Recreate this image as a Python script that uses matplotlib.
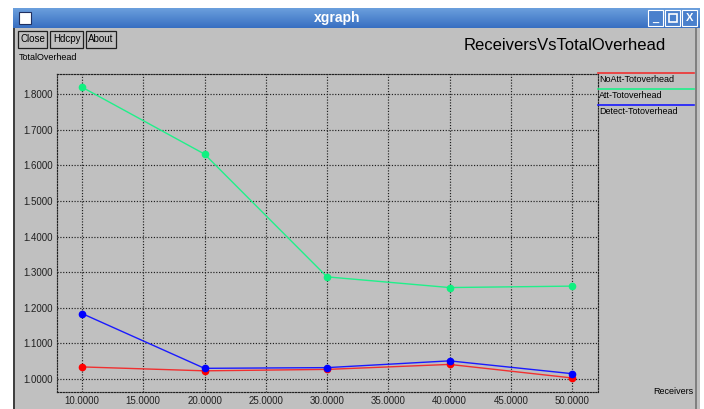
import matplotlib
matplotlib.use("Agg")
import matplotlib.pyplot as plt
from matplotlib.patches import Rectangle
import numpy as np

receivers = [10, 20, 30, 40, 50]
noatt = [1.034, 1.023, 1.027, 1.041, 1.003]
att = [1.820, 1.632, 1.287, 1.257, 1.261]
detect = [1.184, 1.030, 1.032, 1.051, 1.015]
series_names = ["NoAtt-Totoverhead", "Att-Totoverhead", "Detect-Totoverhead"]
series_colors = ["#f03030", "#20f08a", "#1a1aff"]
marker_colors = ["#ff0000", "#10f080", "#0000ff"]
xticks = [10, 15, 20, 25, 30, 35, 40, 45, 50]
yticks = [1.0, 1.1, 1.2, 1.3, 1.4, 1.5, 1.6, 1.7, 1.8]

W, H = 704, 409
FONT = "Liberation Sans"
fig = plt.figure(figsize=(W / 100, H / 100), dpi=100)
fig.patch.set_facecolor("white")

def px(x, y):
    return x / W, 1 - y / H

def rect(x0, y0, x1, y1, z=-5, **kw):
    fig.patches.append(Rectangle((x0 / W, 1 - y1 / H), (x1 - x0) / W, (y1 - y0) / H,
                                 transform=fig.transFigure, zorder=z, **kw))

# window body
rect(13, 27, 700, 409, facecolor="#c0c0c0", edgecolor="none", z=-10)
rect(13, 27, 15, 409, facecolor="#404040", edgecolor="none", z=-9)
rect(695, 27, 697, 409, facecolor="#808080", edgecolor="none", z=-9)
# title bar gradient
ncol = 20
for i in range(ncol):
    y0 = 8 + i * 20 / ncol
    c = np.array([0x6a, 0x9e, 0xdc]) * (1 - i / ncol) + np.array([0x35, 0x6c, 0xc0]) * (i / ncol)
    rect(13, y0, 700, y0 + 20 / ncol + 0.3, facecolor=c / 255, edgecolor="none", z=-9)
fig.text(*px(337, 18), "xgraph", ha="center", va="center", color="white",
         fontsize=10, fontweight="bold", family=FONT)
rect(19, 12, 31, 24, facecolor="white", edgecolor="#203060", linewidth=0.8)
for i, x0 in enumerate([648, 665, 682]):
    rect(x0, 10, x0 + 15, 26, facecolor="#4a80cc", edgecolor="white", linewidth=0.8)
fig.text(*px(655.5, 19), "_", ha="center", va="center", color="white", fontsize=8, fontweight="bold", family=FONT)
rect(669, 14, 677, 22, facecolor="none", edgecolor="white", linewidth=1.2, z=-4)
fig.text(*px(689.5, 18), "X", ha="center", va="center", color="white", fontsize=8, fontweight="bold", family=FONT)

# buttons
for label, x0, x1 in [("Close", 18, 47), ("Hdcpy", 50, 83), ("About", 86, 116)]:
    rect(x0, 31, x1, 48, facecolor="#c0c0c0", edgecolor="#202020", linewidth=0.9)
    fig.text(*px((x0 + x1) / 2, 39.5), label, ha="center", va="center", fontsize=7,
             family=FONT, color="black")

fig.text(*px(565, 46), "ReceiversVsTotalOverhead", ha="center", va="center",
         fontsize=12, family=FONT, color="black")
fig.text(*px(19, 57), "TotalOverhead", ha="left", va="center", fontsize=6.5,
         family=FONT, color="black")
fig.text(*px(693, 392), "Receivers", ha="right", va="center", fontsize=6.5,
         family=FONT, color="black")

# axes
ax = fig.add_axes([57 / W, 1 - 392 / H, (598 - 57) / W, (392 - 74) / H])
ax.set_facecolor("#c0c0c0")
for s in ax.spines.values():
    s.set_linestyle((0, (1, 1.4)))
    s.set_color("#202020")
    s.set_linewidth(0.85)
ax.set_xlim(7.96, 52.12)
ax.set_ylim(0.9635, 1.857)
ax.set_xticks(xticks)
ax.set_yticks(yticks)
ax.set_xticklabels([f"{v:.4f}" for v in xticks], fontsize=7, family=FONT)
ax.set_yticklabels([f"{v:.4f}" for v in yticks], fontsize=7, family=FONT)
ax.tick_params(length=0, pad=3, colors="#202020")
ax.grid(True, color="#202020", linestyle=(0, (1, 1.4)), linewidth=0.85)
ax.set_axisbelow(True)

for vals, c, mc in zip([noatt, att, detect], series_colors, marker_colors):
    ax.plot(receivers, vals, color=c, linewidth=1.0, marker="o", markersize=4.5,
            markerfacecolor=mc, markeredgecolor=mc, zorder=3)

# legend
for i, (name, c) in enumerate(zip(series_names, series_colors)):
    y = 73 + i * 16
    fig.lines.append(plt.Line2D([598 / W, 694 / W], [1 - y / H, 1 - y / H],
                                transform=fig.transFigure, color=c, linewidth=1.2))
    fig.text(*px(599, y + 6.5), name, ha="left", va="center", fontsize=6.5,
             family=FONT, color="black")

fig.savefig("out.png", dpi=100)
